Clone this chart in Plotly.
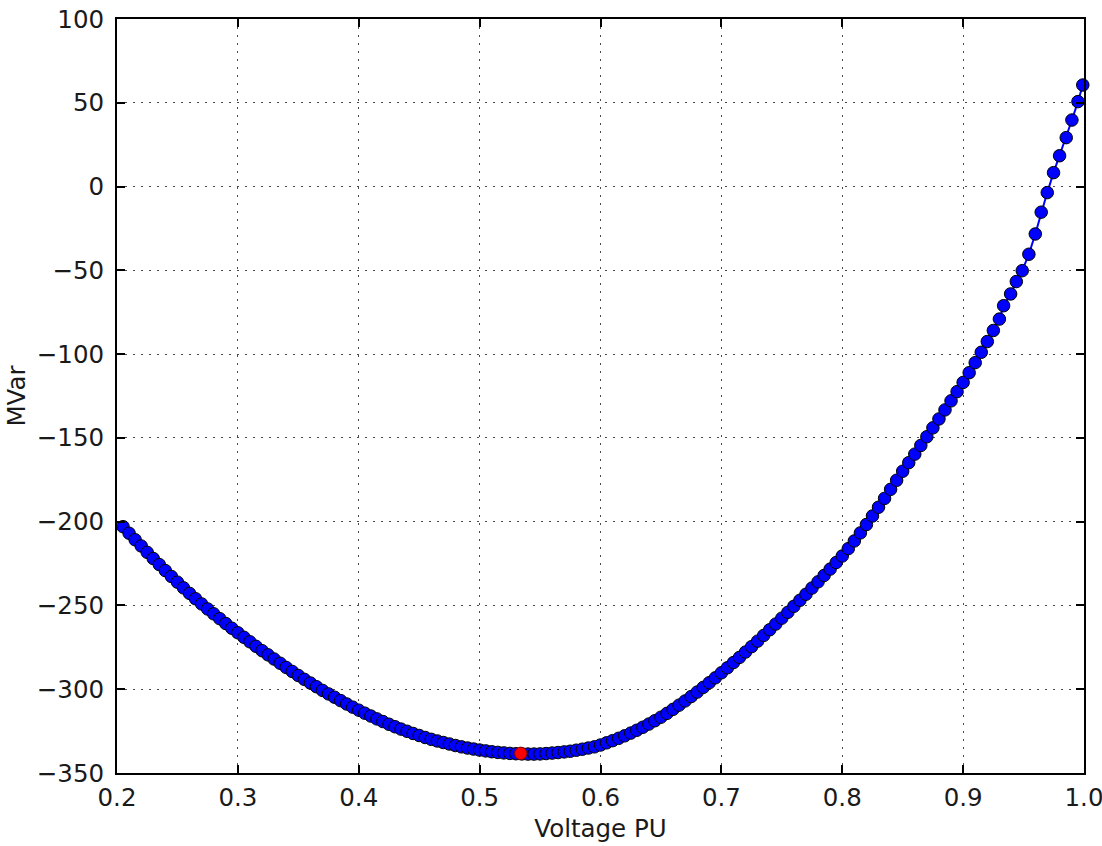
import plotly.graph_objects as go

voltage_pu = [
    0.205, 0.21, 0.215, 0.22, 0.225, 0.23, 0.235, 0.24, 0.245, 0.25,
    0.255, 0.26, 0.265, 0.27, 0.275, 0.28, 0.285, 0.29, 0.295, 0.30,
    0.305, 0.31, 0.315, 0.32, 0.325, 0.33, 0.335, 0.34, 0.345, 0.35,
    0.355, 0.36, 0.365, 0.37, 0.375, 0.38, 0.385, 0.39, 0.395, 0.40,
    0.405, 0.41, 0.415, 0.42, 0.425, 0.43, 0.435, 0.44, 0.445, 0.45,
    0.455, 0.46, 0.465, 0.47, 0.475, 0.48, 0.485, 0.49, 0.495, 0.50,
    0.505, 0.51, 0.515, 0.52, 0.525, 0.53, 0.535, 0.54, 0.545, 0.55,
    0.555, 0.56, 0.565, 0.57, 0.575, 0.58, 0.585, 0.59, 0.595, 0.60,
    0.605, 0.61, 0.615, 0.62, 0.625, 0.63, 0.635, 0.64, 0.645, 0.65,
    0.655, 0.66, 0.665, 0.67, 0.675, 0.68, 0.685, 0.69, 0.695, 0.70,
    0.705, 0.71, 0.715, 0.72, 0.725, 0.73, 0.735, 0.74, 0.745, 0.75,
    0.755, 0.76, 0.765, 0.77, 0.775, 0.78, 0.785, 0.79, 0.795, 0.80,
    0.805, 0.81, 0.815, 0.82, 0.825, 0.83, 0.835, 0.84, 0.845, 0.85,
    0.855, 0.86, 0.865, 0.87, 0.875, 0.88, 0.885, 0.89, 0.895, 0.90,
    0.905, 0.91, 0.915, 0.92, 0.925, 0.93, 0.9335, 0.9393, 0.944, 0.9489,
    0.9544, 0.9597, 0.9646, 0.9696, 0.9748, 0.9798, 0.9853, 0.990, 0.995, 0.999,
]

mvar = [
    -203.0, -206.9, -210.8, -214.5, -218.3, -222.0, -225.6, -229.2, -232.7, -236.1,
    -239.5, -242.8, -246.0, -249.1, -252.1, -255.0, -257.9, -260.8, -263.6, -266.3,
    -269.0, -271.7, -274.4, -277.0, -279.5, -282.0, -284.5, -287.0, -289.4, -291.8,
    -294.1, -296.3, -298.5, -300.7, -302.8, -304.8, -306.8, -308.8, -310.7, -312.5,
    -314.3, -316.0, -317.7, -319.3, -320.9, -322.4, -323.8, -325.1, -326.4, -327.6,
    -328.8, -329.9, -330.9, -331.8, -332.7, -333.6, -334.4, -335.1, -335.7, -336.3,
    -336.8, -337.3, -337.7, -338.0, -338.3, -338.5, -338.6, -338.7, -338.7, -338.6,
    -338.4, -338.1, -337.8, -337.4, -337.0, -336.4, -335.8, -335.1, -334.4, -333.3,
    -332.0, -330.7, -329.3, -327.8, -326.2, -324.5, -322.7, -320.8, -318.8, -316.7,
    -314.4, -312.0, -309.5, -307.0, -304.4, -301.7, -298.9, -296.1, -293.2, -290.2,
    -287.2, -284.1, -281.0, -277.8, -274.6, -271.3, -267.9, -264.5, -261.1, -257.6,
    -254.1, -250.5, -246.9, -243.3, -239.6, -235.9, -232.1, -228.3, -224.4, -220.5,
    -216.1, -211.5, -206.7, -201.7, -196.6, -191.4, -186.1, -180.7, -175.3, -169.9,
    -164.8, -159.7, -154.5, -149.3, -144.0, -138.7, -133.3, -127.9, -122.4, -116.9,
    -111.1, -105.1, -98.9, -92.5, -85.9, -79.1, -71.1, -64.1, -56.7, -50.2,
    -40.4, -28.3, -15.3, -3.6, 8.3, 18.4, 29.2, 39.7, 50.7, 60.6,
]

highlight_v = [0.534]
highlight_q = [-338.3]

x_ticks = [0.2, 0.3, 0.4, 0.5, 0.6, 0.7, 0.8, 0.9, 1.0]
x_tick_text = ["0.2", "0.3", "0.4", "0.5", "0.6", "0.7", "0.8", "0.9", "1.0"]
y_ticks = [-350, -300, -250, -200, -150, -100, -50, 0, 50, 100]
y_tick_text = ["\u2212350", "\u2212300", "\u2212250", "\u2212200", "\u2212150",
               "\u2212100", "\u221250", "0", "50", "100"]

fig = go.Figure()
fig.add_trace(go.Scatter(
    x=voltage_pu, y=mvar, mode="lines+markers",
    line=dict(color="#0000ff", width=2),
    marker=dict(symbol="circle", size=12.5, color="#0000ff",
                line=dict(color="black", width=1)),
    showlegend=False, cliponaxis=False,
))
fig.add_trace(go.Scatter(
    x=highlight_v, y=highlight_q, mode="markers",
    marker=dict(symbol="circle", size=12.5, color="#ff0000",
                line=dict(color="#7a0000", width=1)),
    showlegend=False, cliponaxis=False,
))

font = dict(family="DejaVu Sans", size=24.5, color="#1a1a1a")
axis_common = dict(
    showline=True, linecolor="black", linewidth=2, mirror="ticks",
    ticks="inside", ticklen=8, tickwidth=1.5, tickcolor="black",
    showgrid=True, gridcolor="rgba(0,0,0,0.7)", gridwidth=1, griddash="2px,6px",
    zeroline=False, tickfont=font, automargin=False, ticklabeloverflow="allow",
)
fig.update_xaxes(range=[0.2, 1.0], tickvals=x_ticks, ticktext=x_tick_text,
                 title=dict(text="Voltage PU", font=font, standoff=8),
                 ticklabelstandoff=2, **axis_common)
fig.update_yaxes(range=[-350, 100], tickvals=y_ticks, ticktext=y_tick_text,
                 title=dict(text="MVar", font=font, standoff=4),
                 ticklabelstandoff=6, **axis_common)
fig.update_layout(
    width=1102, height=846,
    margin=dict(l=116.5, r=17.5, t=19, b=73),
    paper_bgcolor="white", plot_bgcolor="white",
    font=font,
)
fig.write_html("out.html")
